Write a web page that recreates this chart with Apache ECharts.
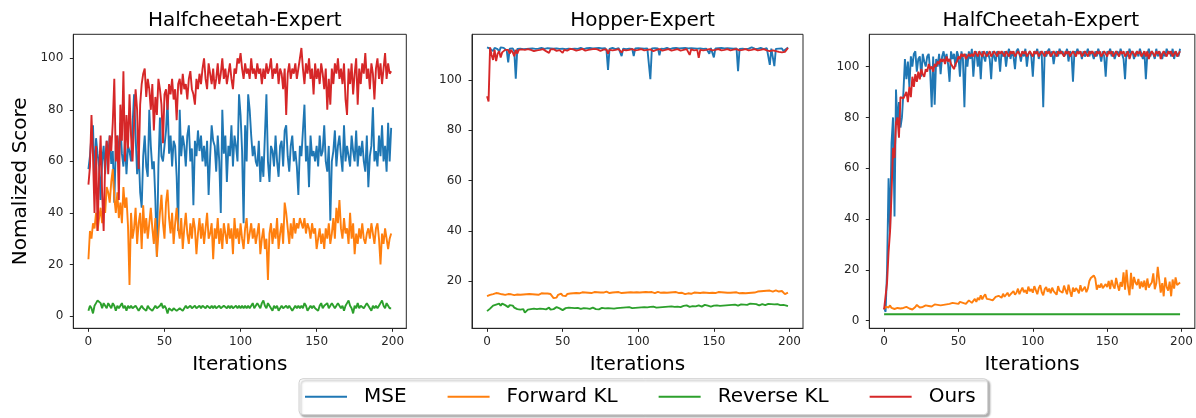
<!DOCTYPE html>
<html>
<head>
<meta charset="utf-8">
<script src="https://cdn.jsdelivr.net/npm/echarts@6/dist/echarts.min.js"></script>
<style>
html,body{margin:0;padding:0;background:#fff;}
#c{width:1196px;height:418px;}
</style>
</head>
<body>
<div id="c"></div>
<script>
const seriesNames = ['MSE', 'Forward KL', 'Reverse KL', 'Ours'];
const panelTitles = ['Halfcheetah-Expert', 'Hopper-Expert', 'HalfCheetah-Expert'];
const xTicks = [0, 50, 100, 150, 200];
const yTicks1 = [0, 20, 40, 60, 80, 100];
const yTicks2 = [20, 40, 60, 80, 100];
const yTicks3 = [0, 20, 40, 60, 80, 100];
const iterations = Array.from({length: 200}, (_, i) => i);

// ---- Panel 1: Halfcheetah-Expert ----
const p1_mse = [
57,62,70,74,52,69,63,58,45,60,
66,55,68,62,70,59,64,44,66,70,
60,75,63,58,68,55,66,64,60,74,
86,70,55,64,48,42,62,70,58,54,
80,66,57,60,45,23,58,77,62,60,
66,72,84,63,70,58,68,66,54,33,
80,62,70,66,58,70,74,60,65,43,
68,62,72,64,70,60,66,58,68,47,
62,74,68,66,56,70,60,40,80,63,
70,52,66,62,74,58,70,66,60,86,
78,64,36,74,60,86,80,70,62,66,
60,58,68,52,62,54,70,86,60,52,
66,64,58,70,60,54,66,68,58,72,
74,62,56,66,70,60,64,58,47,66,
62,72,82,60,66,50,70,62,64,60,
66,58,70,62,64,74,60,56,66,37,
60,64,72,58,66,70,62,56,74,60,
66,62,58,70,64,60,72,58,66,62,
68,60,56,70,50,62,66,81,60,64,
58,70,62,74,60,66,56,75,60,73];
const p1_fkl = [
22,33,30,36,34,40,33,38,42,36,
45,40,50,48,44,52,57,46,40,48,
38,44,36,50,42,46,35,12,40,30,
34,42,28,36,40,26,43,32,38,30,
36,42,34,28,38,23,32,40,47,36,
30,44,49,38,32,40,28,36,42,34,
30,38,26,34,40,32,28,36,30,38,
34,24,32,38,30,36,28,34,40,30,
32,36,22,34,30,38,28,34,26,36,
32,28,36,30,34,24,38,30,34,28,
36,30,26,34,38,28,32,36,30,34,
28,32,36,24,30,34,26,30,14,32,
36,28,34,30,38,26,32,36,28,44,
40,34,28,36,30,38,32,36,34,38,
36,34,38,32,36,34,30,36,32,34,
26,30,34,28,32,26,34,30,36,28,
32,38,30,42,36,45,34,30,38,32,
34,28,40,30,36,24,32,28,34,30,
36,30,28,32,34,30,36,32,28,34,
36,30,20,32,28,34,30,26,30,32];
const p1_rkl = [
2,4,3,1,4,5,6,6,5,3,
5,4,3,5,4,3,5,4,2,4,
3,4,5,3,4,2,4,3,4,3,
3,4,3,2,3,4,3,3,2,4,
3,3,2,3,4,3,3,4,5,3,
4,3,1,3,3,2,3,3,2,2,
3,3,2,3,4,3,3,4,3,3,
4,3,3,4,3,4,4,3,4,4,
3,4,3,4,3,3,4,3,3,4,
4,3,4,3,4,3,3,4,3,4,
3,4,3,4,3,4,3,4,5,3,
4,5,4,3,5,6,4,3,5,4,
3,2,4,3,4,2,3,4,3,3,
4,3,4,3,2,3,4,3,4,3,
4,3,5,4,2,3,4,3,4,3,
3,2,4,5,3,4,4,5,3,4,
5,4,3,4,5,4,3,4,2,4,
5,6,4,3,1,4,3,5,3,4,
4,3,4,5,4,3,2,4,3,4,
3,4,5,6,4,3,5,4,3,3];
const p1_ours = [
51,58,78,62,40,66,33,55,70,48,
33,60,68,55,70,64,75,92,60,70,
45,82,68,95,60,78,65,86,70,60,
75,88,80,57,82,90,94,96,85,92,
88,80,90,72,85,78,92,88,82,67,
86,88,80,90,86,92,84,88,76,90,
92,86,94,88,90,84,92,95,88,86,
82,92,88,94,90,96,100,92,88,98,
94,90,96,88,92,98,90,94,100,92,
96,90,94,98,92,88,96,94,100,98,
102,96,92,98,94,96,92,100,94,96,
92,98,94,96,90,96,92,98,94,96,
100,92,96,94,98,90,96,94,88,96,
78,94,98,92,96,94,98,92,96,100,
104,96,90,98,94,100,92,96,86,98,
92,96,90,98,94,88,96,80,92,82,
96,90,98,94,100,92,96,90,98,84,
78,96,90,98,86,94,100,82,96,90,
98,94,102,92,96,88,98,94,84,96,
100,92,98,90,96,102,92,98,94,95];

// ---- Panel 2: Hopper-Expert ----
const p2_mse = [
113,112.8,112.5,112.2,111.5,112.8,112.6,112.3,111.2,113,
112.6,112.8,112.4,111.8,107,112.5,112.8,112.6,111.5,100.5,
112.4,112.7,112.5,112.8,112.3,112.6,112.4,112.8,112.5,112.2,
112.6,112.8,112.4,112.7,112.5,112.3,112.8,112.6,112.4,112.5,
112.7,112.4,112.6,112.8,112.5,112.3,112.6,112.7,112.4,112.8,
112.5,112.6,112.3,112.7,112.5,112.8,112.4,112.6,112.5,112.7,
112.4,112.6,112.8,112.5,112.3,112.6,112.7,112.4,112.8,112.5,
112.6,112.3,112.7,112.5,112.8,112.4,112.6,112.5,112.7,111.8,
104,112.4,112.6,112.8,112.5,112.3,112.6,112.7,112.4,109.5,
112.5,112.6,112.3,112.7,112.5,112.8,112.4,109.5,112.6,112.5,
112.7,112.4,112.6,112.8,112.5,112.3,112.6,112.4,100.3,112.6,
112.5,112.7,112.4,112.6,109.8,112.5,112.7,112.4,112.6,112.8,
112.5,112.3,112.6,112.7,112.4,112.8,112.5,112.6,112.3,112.7,
112.5,112.8,112.4,112.6,112.5,112.7,112.4,112.6,112.8,112.5,
112.3,112.6,112.7,112.4,112.8,112.5,112.6,110.5,112.7,112.5,
109,112.6,112.4,112.7,112.5,112.8,112.4,112.6,112.5,112.7,
112.4,112.6,112.8,112.5,112.3,112.6,103.5,112.4,112.8,112.5,
112.6,112.3,112.7,112.5,112.8,113,112.6,112.5,112.7,112.4,
112.6,112.8,112.5,112.3,112.6,112.7,112.4,106,112.5,112.6,
105.5,112.4,112.7,112.5,112.3,112.6,111.5,111.8,112.4,113];
const p2_fkl = [
14,14.2,14.5,14.6,14.8,15,15.2,14.8,15,14.6,
14.7,14.8,14.5,14.6,14.8,14.5,14.7,14.6,14.4,14.5,
14.6,14.4,14.5,14.3,14.6,14.5,14.7,14.5,14.8,14.6,
14.7,14.9,14.6,14.8,14.5,14.9,15.1,14.8,15,14.7,
15,14.6,14.8,14,13.2,13,13.4,14.5,15.2,15,
14.2,13.5,14,14.8,14.5,15,15.3,15.1,15.4,15.2,
15.4,15.1,15.3,15.5,15.2,15.4,15.6,15.3,15.5,15.2,
15.4,15.6,15.3,15.5,15.2,15.4,15.7,15.4,15.5,15.8,
15.4,15.2,15.6,15.4,14.8,15.5,15.3,15.6,15.4,15.2,
15.5,15.3,15.6,15.4,15.2,15.5,15.7,15.4,15.3,15.5,
15.6,15.4,15.2,15.5,15.3,15.6,15.4,15.5,15.3,15.6,
15.4,15.2,15.5,15.7,15.4,15.3,15.6,15.4,15.5,15.3,
15.6,15.4,15.2,15.5,15.3,15.6,15.4,15.2,15.5,15.3,
15.2,14.8,15.4,15.1,15.3,14.9,15.2,15.4,15,15.3,
15.5,15.2,14.6,15.4,15.1,15.3,15.5,15.2,15.4,15.3,
15.5,15.2,15.4,15.6,15.3,15.5,15.2,15.4,15.6,15.3,
15.5,15.3,15.6,15.4,15.2,15.5,15.3,15.1,15.4,15.2,
15.3,15.1,15.4,15.2,15,15.3,15.1,15.4,15.6,15.8,
15.6,15.9,15.7,16,15.8,16.1,15.9,16.2,16,15.8,
16.1,16.3,16,15.8,16.2,16,15.5,14.8,15.2,15.4];
const p2_rkl = [
8,8.5,9,9.6,10.2,9.8,10.6,10.4,11,10.2,
11,11.6,10.4,10.8,9.6,10.4,9.8,10.2,9.4,9.8,
8.8,9.2,8.6,8.2,8.8,7.4,8,8.6,8.4,8.8,
8.6,9,8.5,8.8,8.4,9,8.6,8.9,9.2,8.7,
8.9,9.4,8.6,9,8.8,9.2,9.6,8.9,9.1,8.6,
8.4,8.8,9.2,8.9,9.4,9.1,9.3,8.9,9.2,9,
9.3,9.1,8.9,9.4,9.2,9.5,9.1,8.6,8.9,9.3,
9.4,9.2,8.8,9.1,8.7,9,9.3,8.8,9.1,9.4,
9.2,9.5,9.1,9.3,9,9.4,9.2,9.5,9.3,9.1,
9.4,9.2,9.5,9.3,9.6,9.4,9.2,9.5,9.3,9.6,
9.4,9.7,9.5,9.3,9.6,9.8,9.5,9.4,9.7,9.5,
9.8,9.6,9.4,9.7,9.5,9.8,9.6,9.9,9.7,9.5,
9.8,9.6,9.9,10.2,9.7,9.5,9.8,10,9.6,9.9,
10.1,9.8,10.3,10,9.7,10.2,10,10.4,9.9,10.1,
10.3,10,9.8,10.2,10.5,10.8,10.2,10,9.8,10.1,
10.2,10,10.3,9.9,10.1,10.4,10.2,10,10.3,10.1,
10.4,10.2,10.5,10.3,10.6,10.4,10.2,10.5,10.7,10.4,
10.6,10.8,10.5,10.9,11,10.7,10.9,10.6,10.8,10.5,
10.3,10.6,10.8,10.5,10.4,10.7,10.9,10.6,10.8,10.5,
10.7,10.5,10.8,10.6,10.4,10.7,10.5,10.3,10.2,10];
const p2_ours = [
93.5,91.5,113,110,108,112,107.5,110.5,111.5,109,
111,111.5,112,111.8,112,110.5,112,111,109.5,112,
110.5,112,111.5,112.2,111.8,112,111.5,112.3,111.8,112,
112.2,111.5,112,111.8,112.4,112,111.6,112.3,112,111.5,
112,110.8,112.2,111.8,112.3,112,111.6,112.2,111.9,112.3,
110.8,112,112.3,111.7,112.1,112.4,111.8,112.2,112,111.7,
112.3,112,111.8,112.4,112.1,111.7,112.3,112,111.8,112.2,
112,112.4,111.8,112.2,112,111.6,112.3,112.1,111.8,112.2,
110.5,112,112.3,111.8,112.2,112,111.7,112.3,112.1,111,
112,112.3,111.8,112.2,112,111.7,112.3,112,111.8,112.2,
112,111.7,112.3,112.1,111.8,112.4,112,111.7,112.2,112,
111.5,112.2,112,111.8,112.3,112.1,111.7,112.2,112,111.8,
112.3,112,111.7,112.2,112,111.8,112.3,112.1,111.7,112.2,
112,111.8,112.3,112,110,112.2,112,111.8,112.3,112,
108.8,112,112.3,111.8,112.2,112,111.6,112.3,112.1,111.8,
112.2,112,111.7,112.3,112,111.8,112.2,112,111.7,112.3,
112,111.8,112.2,112.1,111.7,112.3,112,111.8,112.2,112,
111.7,112.3,112,111.8,112.2,112,111.7,112.3,112,111.8,
112.2,112,111.6,112.3,112,111.8,112.2,111.5,112,111.8,
112.1,111.5,112,111.2,111.5,111,111.4,111.2,112,112.8];

// ---- Panel 3: HalfCheetah-Expert ----
const p3_mse = [
5,3.5,20,56,35,70,80,41,91,77,
86,76,80,90,103,95,102,92,104,100,
105,106,98,103,104,96,105,102,100,104,
105,98,84,104,85,103,100,105,97,104,
106,102,105,101,94,106,103,105,100,106,
104,96,106,103,84,105,100,106,103,107,
96,104,106,100,105,95,106,104,102,106,
105,103,95,106,104,102,106,105,98,106,
104,106,100,105,107,103,106,104,99,106,
107,105,102,106,104,107,100,105,106,104,
96,106,105,107,103,106,105,84,106,104,
106,107,104,106,101,105,106,104,107,105,
106,104,105,107,102,106,105,94,106,105,
107,105,106,103,106,104,105,107,104,106,
105,103,106,104,107,105,102,106,104,96,
106,105,107,104,106,103,105,106,104,107,
105,103,95,106,104,107,105,106,103,105,
106,104,107,105,103,106,95,105,107,104,
106,105,103,107,104,106,105,103,106,104,
107,105,106,104,107,103,106,105,104,107];
const p3_fkl = [
4.5,5.5,4.8,5.2,6,5,5.4,4.6,5.2,5,
5.6,4.8,5.2,5,4.6,5.4,5,4.8,5.2,4.4,
5,5.4,6.2,5.6,5.2,5.8,5.4,5.6,6,5.5,
5.8,6.2,5.6,6,6.4,5.8,6.2,6.6,6,6.4,
6.2,5.8,6.4,6,6.6,6.2,7,6.4,6.8,7.2,
6.6,7.4,6.8,7,7.6,6.6,7.2,8,7.4,7,
7.8,8.6,7.4,9,8.2,10,8.4,9.6,10.4,8.6,
9.2,8.4,9,8,8.6,9.4,8.8,9.8,10.2,9,
10.6,9.4,10,11,9.6,10.4,9.8,11.6,10.2,11,
12.6,10.4,11.8,13,11.2,12,10.6,13.4,11.6,12.4,
11,13.6,12,10.4,12.8,14,11.2,10,12.4,13.2,
11.4,12.6,10.8,13,11.6,12.2,10.2,13.6,11.8,12.4,
11,13.8,12,10.4,14.2,11.6,9.4,13,11.4,12.8,
12,10.8,14,11.6,12.4,13.4,11.2,12.6,15.6,16.8,
17.4,17.8,16.6,12.2,14,13,14.6,12.8,13.6,14.4,
13.2,15.6,12.4,16,13.8,12.6,16.8,14,11.8,15.2,
13.4,19,12.2,20,13.6,10,18.8,12.4,17.2,15,
14,16.4,12.6,15.4,13.2,15.8,12,16.6,13,14.2,
15,18.6,12.4,14.6,21.2,16,11,14.8,9.6,17,
13.2,11.8,15.4,9.6,16.2,12.6,17,14,13.8,15];
const p3_rkl = [
2.5,2.5,2.5,2.5,2.5,2.5,2.5,2.5,2.5,2.5,
2.5,2.5,2.5,2.5,2.5,2.5,2.5,2.5,2.5,2.5,
2.5,2.5,2.5,2.5,2.5,2.5,2.5,2.5,2.5,2.5,
2.5,2.5,2.5,2.5,2.5,2.5,2.5,2.5,2.5,2.5,
2.5,2.5,2.5,2.5,2.5,2.5,2.5,2.5,2.5,2.5,
2.5,2.5,2.5,2.5,2.5,2.5,2.5,2.5,2.5,2.5,
2.5,2.5,2.5,2.5,2.5,2.5,2.5,2.5,2.5,2.5,
2.5,2.5,2.5,2.5,2.5,2.5,2.5,2.5,2.5,2.5,
2.5,2.5,2.5,2.5,2.5,2.5,2.5,2.5,2.5,2.5,
2.5,2.5,2.5,2.5,2.5,2.5,2.5,2.5,2.5,2.5,
2.5,2.5,2.5,2.5,2.5,2.5,2.5,2.5,2.5,2.5,
2.5,2.5,2.5,2.5,2.5,2.5,2.5,2.5,2.5,2.5,
2.5,2.5,2.5,2.5,2.5,2.5,2.5,2.5,2.5,2.5,
2.5,2.5,2.5,2.5,2.5,2.5,2.5,2.5,2.5,2.5,
2.5,2.5,2.5,2.5,2.5,2.5,2.5,2.5,2.5,2.5,
2.5,2.5,2.5,2.5,2.5,2.5,2.5,2.5,2.5,2.5,
2.5,2.5,2.5,2.5,2.5,2.5,2.5,2.5,2.5,2.5,
2.5,2.5,2.5,2.5,2.5,2.5,2.5,2.5,2.5,2.5,
2.5,2.5,2.5,2.5,2.5,2.5,2.5,2.5,2.5,2.5,
2.5,2.5,2.5,2.5,2.5,2.5,2.5,2.5,2.5,2.5];
const p3_ours = [
4.5,5,15,27,35,50,68,64,78,80,
72,88,88,87.5,87,90,86,92,88,96,
92,97,94,98,95,99,97,96,99,98,
101,99,100,98,101,100,102,101,103,102,
103,101,104,102,103,101,100,99,101,102,
104,103,105,104,105,103,104,105,104,105,
104,106,105,104,106,105,104,106,105,104,
105,106,104,105,106,105,104,106,105,106,
105,104,106,105,104,106,105,106,104,105,
106,105,104,106,105,106,104,105,106,105,
104,106,105,106,104,105,106,105,104,106,
105,106,104,105,106,105,104,106,105,106,
105,104,106,105,106,104,105,106,105,104,
106,105,106,104,105,106,105,104,106,105,
106,105,104,106,105,106,104,105,106,105,
104,106,105,106,104,105,106,105,104,106,
105,106,104,105,106,103,105,106,105,104,
106,105,106,104,105,106,104,106,103,105,
106,105,104,106,105,106,103,105,106,105,
104,106,105,106,104,105,106,104,105,106];

const panels = [
  {title: panelTitles[0], data: [p1_mse, p1_fkl, p1_rkl, p1_ours], yTicks: yTicks1, ymin: -4.77, ymax: 109.3, left: 73.3, width: 333},
  {title: panelTitles[1], data: [p2_mse, p2_fkl, p2_rkl, p2_ours], yTicks: yTicks2, ymin: 1.17, ymax: 118.2, left: 472, width: 331},
  {title: panelTitles[2], data: [p3_mse, p3_fkl, p3_rkl, p3_ours], yTicks: yTicks3, ymin: -3.0, ymax: 112.7, left: 869.3, width: 333}
];

const COLORS = ['#1f77b4', '#ff7f0e', '#2ca02c', '#d62728'];
const FONT = 'DejaVu Sans';
const INK = '#262626';

const grids = [], xAxes = [], yAxes = [], titles = [], series = [];
panels.forEach((p, gi) => {
  grids.push({left: p.left, top: 34.3, width: p.width, height: 294, show: true,
    borderColor: INK, borderWidth: 1, backgroundColor: 'transparent', containLabel: false});
  titles.push({text: p.title, left: p.left + p.width / 2, top: 6, textAlign: 'center',
    textStyle: {fontFamily: FONT, fontSize: 20, fontWeight: 'normal', color: '#000'}});
  xAxes.push({type: 'value', gridIndex: gi, min: -9.95, max: 208.95,
    name: 'Iterations', nameLocation: 'middle', nameGap: 26,
    nameTextStyle: {fontFamily: FONT, fontSize: 20, color: '#000'},
    axisLine: {show: true, onZero: false, lineStyle: {color: INK, width: 1}},
    axisTick: {show: true, inside: false, length: 3.5, customValues: xTicks, lineStyle: {color: INK, width: 1}},
    axisLabel: {show: true, customValues: xTicks, fontFamily: FONT, fontSize: 12, color: INK, margin: 8},
    splitLine: {show: false}});
  yAxes.push({type: 'value', gridIndex: gi, min: p.ymin, max: p.ymax,
    name: gi === 0 ? 'Nomalized Score' : '', nameLocation: 'middle', nameGap: 43,
    nameTextStyle: {fontFamily: FONT, fontSize: 20, color: '#000'},
    axisLine: {show: true, onZero: false, lineStyle: {color: INK, width: 1}},
    axisTick: {show: true, inside: false, length: 3.5, customValues: p.yTicks, lineStyle: {color: INK, width: 1}},
    axisLabel: {show: true, customValues: p.yTicks, fontFamily: FONT, fontSize: 12, color: INK, margin: 10},
    splitLine: {show: false}});
  p.data.forEach((arr, si) => {
    series.push({name: seriesNames[si], type: 'line', xAxisIndex: gi, yAxisIndex: gi,
      data: arr.map((v, i) => [iterations[i], v]),
      symbol: 'none', showSymbol: false, clip: true,
      lineStyle: {width: 1.9, color: COLORS[si]}, itemStyle: {color: COLORS[si]},
      z: 2 + si, animation: false});
  });
});

const chart = echarts.init(document.getElementById('c'), null, {renderer: 'canvas'});
chart.setOption({
  animation: false,
  backgroundColor: '#fff',
  color: COLORS,
  title: titles,
  grid: grids,
  xAxis: xAxes,
  yAxis: yAxes,
  legend: {
    data: seriesNames, left: 299, top: 378.7, orient: 'horizontal',
    icon: 'rect', itemWidth: 42, itemHeight: 2, itemGap: 41,
    padding: [7, 12, 7, 6],
    borderColor: '#d0d0d0', borderWidth: 1, borderRadius: 4, backgroundColor: '#fff',
    shadowColor: 'rgba(0,0,0,0.3)', shadowBlur: 2, shadowOffsetX: 2, shadowOffsetY: 2,
    textStyle: {fontFamily: FONT, fontSize: 20, color: '#000', padding: [0, 0, 0, 12], lineHeight: 22}
  },
  series: series
});
</script>
</body>
</html>
